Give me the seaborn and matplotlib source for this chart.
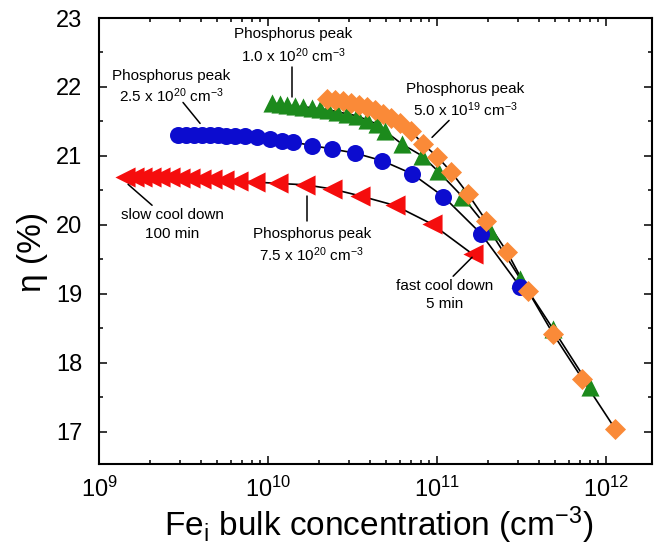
import numpy as np
import pandas as pd
import matplotlib
matplotlib.use("Agg")
import matplotlib.pyplot as plt
from matplotlib.ticker import LogLocator, MultipleLocator, NullFormatter
import seaborn as sns

# ---------------- data ----------------
red_x = [1.43e9, 1.61e9, 1.79e9, 2.03e9, 2.30e9, 2.63e9, 3.01e9, 3.45e9, 4.02e9, 4.67e9,
         5.50e9, 6.64e9, 8.38e9, 1.15e10, 1.66e10, 2.39e10, 3.50e10, 5.64e10, 9.33e10, 1.63e11]
red_y = [20.70, 20.70, 20.70, 20.70, 20.69, 20.69, 20.68, 20.68, 20.67, 20.66,
         20.65, 20.64, 20.62, 20.60, 20.58, 20.52, 20.42, 20.28, 20.01, 19.57]

blue_x = [2.93e9, 3.27e9, 3.65e9, 4.06e9, 4.54e9, 5.06e9, 5.64e9, 6.38e9, 7.31e9, 8.61e9,
          1.03e10, 1.21e10, 1.41e10, 1.82e10, 2.39e10, 3.27e10, 4.73e10, 7.11e10, 1.09e11,
          1.82e11, 3.10e11]
blue_y = [21.30, 21.30, 21.30, 21.30, 21.30, 21.30, 21.29, 21.29, 21.29, 21.27,
          21.24, 21.22, 21.20, 21.15, 21.10, 21.04, 20.93, 20.74, 20.41, 19.87, 19.10]

green_x = [1.06e10, 1.18e10, 1.29e10, 1.45e10, 1.61e10, 1.82e10, 2.03e10, 2.26e10, 2.56e10,
           2.93e10, 3.37e10, 3.85e10, 4.42e10, 4.92e10, 6.21e10, 8.15e10, 1.01e11, 1.41e11,
           2.06e11, 3.10e11, 4.85e11, 8.04e11]
green_y = [21.77, 21.75, 21.74, 21.72, 21.71, 21.70, 21.68, 21.67, 21.64, 21.61, 21.58,
           21.52, 21.46, 21.36, 21.17, 21.00, 20.78, 20.41, 19.91, 19.22, 18.49, 17.65]

orange_x = [2.23e10, 2.49e10, 2.78e10, 3.10e10, 3.45e10, 3.85e10, 4.30e10, 4.79e10, 5.35e10,
            6.04e10, 7.01e10, 8.26e10, 1.00e11, 1.21e11, 1.52e11, 1.95e11, 2.59e11, 3.45e11,
            4.85e11, 7.21e11, 1.13e12]
orange_y = [21.83, 21.81, 21.80, 21.77, 21.74, 21.71, 21.67, 21.61, 21.55, 21.48, 21.36,
            21.17, 20.99, 20.77, 20.45, 20.06, 19.61, 19.04, 18.42, 17.77, 17.04]

series_names = ["red", "green", "blue", "orange"]
series_x = [red_x, green_x, blue_x, orange_x]
series_y = [red_y, green_y, blue_y, orange_y]
series_colors = ["#f50d0d", "#1c8a1c", "#0c0ccf", "#fa8a38"]
series_markers = ["<", "^", "o", "D"]
series_sizes = [210, 170, 150, 115]

ann_line1 = ["Phosphorus peak", "Phosphorus peak", "Phosphorus peak",
             "slow cool down", "Phosphorus peak", "fast cool down"]
ann_line2 = [r"2.5 x 10$^{20}$ cm$^{-3}$", r"1.0 x 10$^{20}$ cm$^{-3}$",
             r"5.0 x 10$^{19}$ cm$^{-3}$", "100 min", r"7.5 x 10$^{20}$ cm$^{-3}$", "5 min"]

# ---------------- style ----------------
sns.set_style("ticks")
plt.rcParams["font.family"] = ["Liberation Sans", "DejaVu Sans"]
plt.rcParams["mathtext.fontset"] = "custom"
plt.rcParams["mathtext.rm"] = "Liberation Sans"
plt.rcParams["mathtext.it"] = "Liberation Sans:italic"
plt.rcParams["mathtext.bf"] = "Liberation Sans:bold"
plt.rcParams["text.color"] = "black"
plt.rcParams["axes.labelcolor"] = "black"
plt.rcParams["xtick.color"] = "black"
plt.rcParams["ytick.color"] = "black"

fig = plt.figure(figsize=(6.6, 5.54), dpi=100)
ax = fig.add_axes([0.15, 0.1625, 0.838, 0.805])

for name, xs, ys in zip(series_names, series_x, series_y):
    df = pd.DataFrame({"x": xs, "y": ys})
    sns.lineplot(data=df, x="x", y="y", ax=ax, color="black", lw=1.2,
                 sort=False, estimator=None, legend=False, zorder=2)

for name, xs, ys, col, mk, sz in zip(series_names, series_x, series_y,
                                     series_colors, series_markers, series_sizes):
    df = pd.DataFrame({"x": xs, "y": ys})
    sns.scatterplot(data=df, x="x", y="y", ax=ax, color=col, marker=mk, s=sz,
                    linewidth=0, legend=False, zorder=3)

ax.set_xscale("log")
ax.set_xlim(1e9, 1.87e12)
ax.set_ylim(16.53, 23)

ax.xaxis.set_major_locator(LogLocator(base=10, numticks=10))
ax.xaxis.set_minor_locator(LogLocator(base=10, subs=np.arange(2, 10), numticks=100))
ax.xaxis.set_minor_formatter(NullFormatter())
ax.yaxis.set_major_locator(MultipleLocator(1))
ax.yaxis.set_minor_locator(MultipleLocator(0.5))

ax.tick_params(which="both", direction="in", top=True, right=True, width=1.1,
               color="black", labelcolor="black")
ax.tick_params(which="major", length=6, labelsize=17)
ax.tick_params(axis="y", which="major", pad=12)
ax.tick_params(axis="x", which="major", pad=9)
ax.tick_params(which="minor", length=3)
for sp in ax.spines.values():
    sp.set_linewidth(1.5)
    sp.set_color("black")

ax.set_xlabel(r"Fe$_{\mathrm{i}}$ bulk concentration (cm$^{-3}$)", fontsize=24, color="black")
ax.set_ylabel("η (%)", fontsize=24, color="black")
ax.xaxis.label.set_va("center")
ax.yaxis.label.set_va("center")
ax.xaxis.set_label_coords(0.506, -0.137)
ax.yaxis.set_label_coords(-0.12, 0.475)

# ---------------- annotations ----------------
# text centre (log10 x, y line1, y line2) and leader line ends (log10 x, y)
ann_pos = [(9.426, 22.152, 21.877), (10.148, 22.761, 22.457), (11.166, 21.964, 21.674),
           (9.432, 20.138, 19.862), (10.260, 19.862, 19.572), (11.047, 19.109, 18.848)]
ann_lines = [((9.497, 21.775), (9.598, 21.471)),
             ((10.142, 22.283), (10.142, 21.848)),
             ((11.071, 21.514), (10.970, 21.268)),
             ((9.314, 20.283), (9.172, 20.587)),
             ((10.231, 20.413), (10.231, 20.051)),
             ((11.095, 19.254), (11.207, 19.529))]

for l1, l2, (lx, y1, y2), ((ax0, ay0), (ax1, ay1)) in zip(ann_line1, ann_line2, ann_pos, ann_lines):
    ax.text(10 ** lx, y1, l1, ha="center", va="center", fontsize=11, color="black", zorder=5)
    ax.text(10 ** lx, y2, l2, ha="center", va="center", fontsize=11, color="black", zorder=5)
    ax.plot([10 ** ax0, 10 ** ax1], [ay0, ay1], color="black", lw=1.1, zorder=4)

fig.savefig("out.png", dpi=100)
